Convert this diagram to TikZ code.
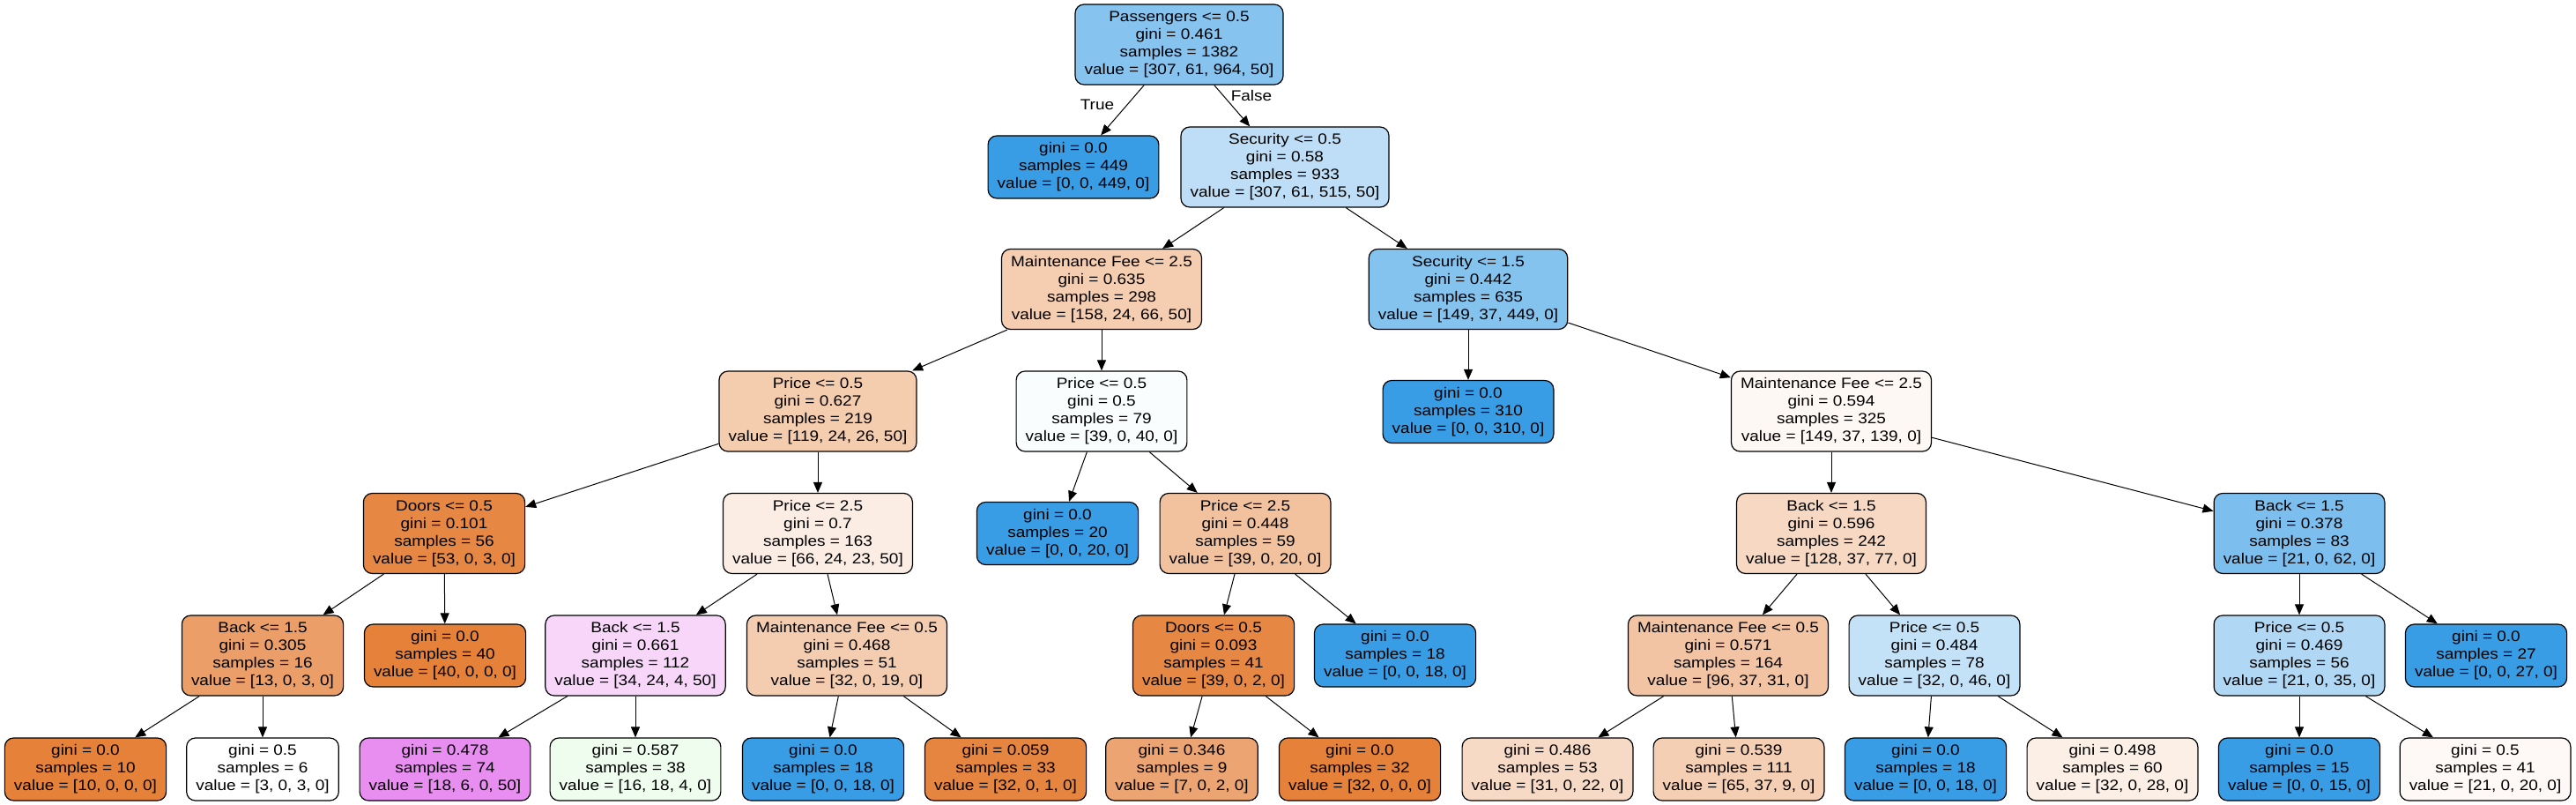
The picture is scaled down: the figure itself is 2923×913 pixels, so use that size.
\documentclass[tikz,border=0pt]{standalone}
\usepackage{fontspec}
\setmainfont{Liberation Sans}[FakeStretch=1.13]
\usetikzlibrary{arrows.meta}
\definecolor{cRoot}{RGB}{134,195,239}
\definecolor{cBlue}{RGB}{57,157,229}
\definecolor{cOrange}{RGB}{229,129,57}
\definecolor{cSecA}{RGB}{189,222,246}
\definecolor{cMfA}{RGB}{245,205,176}
\definecolor{cSecB}{RGB}{133,195,239}
\definecolor{cPrA}{RGB}{244,204,174}
\definecolor{cPrB}{RGB}{250,253,254}
\definecolor{cMfB}{RGB}{254,248,244}
\definecolor{cDoA}{RGB}{230,136,68}
\definecolor{cPrC}{RGB}{251,237,227}
\definecolor{cPrD}{RGB}{242,194,159}
\definecolor{cBkA}{RGB}{247,216,194}
\definecolor{cBkB}{RGB}{124,190,238}
\definecolor{cBkC}{RGB}{235,158,103}
\definecolor{cBkD}{RGB}{247,214,250}
\definecolor{cMfC}{RGB}{244,204,175}
\definecolor{cDoB}{RGB}{230,135,67}
\definecolor{cMfD}{RGB}{243,196,163}
\definecolor{cPrE}{RGB}{195,225,247}
\definecolor{cPrF}{RGB}{176,216,245}
\definecolor{cLfA}{RGB}{255,255,255}
\definecolor{cLfB}{RGB}{232,142,240}
\definecolor{cLfC}{RGB}{238,253,237}
\definecolor{cLfD}{RGB}{230,133,63}
\definecolor{cLfE}{RGB}{236,165,114}
\definecolor{cLfF}{RGB}{247,218,198}
\definecolor{cLfG}{RGB}{245,207,180}
\definecolor{cLfH}{RGB}{252,239,230}
\definecolor{cLfI}{RGB}{254,249,246}
\begin{document}
\begin{tikzpicture}[x=0.5pt,y=-0.5pt,
  box/.style={draw=black, line width=0.6pt, rounded corners=5pt, align=center,
    inner xsep=5.3pt, inner ysep=0pt, font=\fontsize{8.4}{10}\selectfont},
  dec/.style={box, minimum height=45.5pt},
  leaf/.style={box, minimum height=35.5pt},
  edge/.style={draw=black, line width=0.5pt, -{Triangle[length=6pt,width=5pt]}},
  lbl/.style={font=\fontsize{8.4}{10}\selectfont, inner sep=0pt}]
\useasboundingbox[fill=white] (0,0) rectangle (2923,913);
% level 0
\node[dec, fill=cRoot] (n0) at (1338,50.5) {Passengers <= 0.5\\gini = 0.461\\samples = 1382\\value = [307, 61, 964, 50]};
% level 1
\node[leaf, fill=cBlue] (l449) at (1218,189.5) {gini = 0.0\\samples = 449\\value = [0, 0, 449, 0]};
\node[dec, fill=cSecA] (sec05) at (1458,189.5) {Security <= 0.5\\gini = 0.58\\samples = 933\\value = [307, 61, 515, 50]};
% level 2
\node[dec, fill=cMfA] (mf25a) at (1250,328) {Maintenance Fee <= 2.5\\gini = 0.635\\samples = 298\\value = [158, 24, 66, 50]};
\node[dec, fill=cSecB] (sec15) at (1666,328) {Security <= 1.5\\gini = 0.442\\samples = 635\\value = [149, 37, 449, 0]};
% level 3
\node[dec, fill=cPrA] (pr05a) at (928,466.5) {Price <= 0.5\\gini = 0.627\\samples = 219\\value = [119, 24, 26, 50]};
\node[dec, fill=cPrB] (pr05b) at (1250,466.5) {Price <= 0.5\\gini = 0.5\\samples = 79\\value = [39, 0, 40, 0]};
\node[leaf, fill=cBlue] (l310) at (1666,467) {gini = 0.0\\samples = 310\\value = [0, 0, 310, 0]};
\node[dec, fill=cMfB] (mf25b) at (2078,466.5) {Maintenance Fee <= 2.5\\gini = 0.594\\samples = 325\\value = [149, 37, 139, 0]};
% level 4
\node[dec, fill=cDoA] (doorsA) at (504,605) {Doors <= 0.5\\gini = 0.101\\samples = 56\\value = [53, 0, 3, 0]};
\node[dec, fill=cPrC] (pr25a) at (928,605) {Price <= 2.5\\gini = 0.7\\samples = 163\\value = [66, 24, 23, 50]};
\node[leaf, fill=cBlue] (l20) at (1200,605) {gini = 0.0\\samples = 20\\value = [0, 0, 20, 0]};
\node[dec, fill=cPrD] (pr25b) at (1413,605) {Price <= 2.5\\gini = 0.448\\samples = 59\\value = [39, 0, 20, 0]};
\node[dec, fill=cBkA] (back596) at (2078,605) {Back <= 1.5\\gini = 0.596\\samples = 242\\value = [128, 37, 77, 0]};
\node[dec, fill=cBkB] (back378) at (2609,605) {Back <= 1.5\\gini = 0.378\\samples = 83\\value = [21, 0, 62, 0]};
% level 5
\node[dec, fill=cBkC] (back305) at (298,743.5) {Back <= 1.5\\gini = 0.305\\samples = 16\\value = [13, 0, 3, 0]};
\node[leaf, fill=cOrange] (l40) at (505,743.5) {gini = 0.0\\samples = 40\\value = [40, 0, 0, 0]};
\node[dec, fill=cBkD] (back661) at (721,743.5) {Back <= 1.5\\gini = 0.661\\samples = 112\\value = [34, 24, 4, 50]};
\node[dec, fill=cMfC] (mf05a) at (961,743.5) {Maintenance Fee <= 0.5\\gini = 0.468\\samples = 51\\value = [32, 0, 19, 0]};
\node[dec, fill=cDoB] (doorsB) at (1377,743.5) {Doors <= 0.5\\gini = 0.093\\samples = 41\\value = [39, 0, 2, 0]};
\node[leaf, fill=cBlue] (l18a) at (1583,743.5) {gini = 0.0\\samples = 18\\value = [0, 0, 18, 0]};
\node[dec, fill=cMfD] (mf05b) at (1961,743.5) {Maintenance Fee <= 0.5\\gini = 0.571\\samples = 164\\value = [96, 37, 31, 0]};
\node[dec, fill=cPrE] (pr484) at (2195,743.5) {Price <= 0.5\\gini = 0.484\\samples = 78\\value = [32, 0, 46, 0]};
\node[dec, fill=cPrF] (pr469) at (2609,743.5) {Price <= 0.5\\gini = 0.469\\samples = 56\\value = [21, 0, 35, 0]};
\node[leaf, fill=cBlue] (l27) at (2821,743.5) {gini = 0.0\\samples = 27\\value = [0, 0, 27, 0]};
% level 6
\node[leaf, fill=cOrange] (l10) at (97,872.5) {gini = 0.0\\samples = 10\\value = [10, 0, 0, 0]};
\node[leaf, fill=cLfA] (l6) at (298,872.5) {gini = 0.5\\samples = 6\\value = [3, 0, 3, 0]};
\node[leaf, fill=cLfB] (l478) at (505,872.5) {gini = 0.478\\samples = 74\\value = [18, 6, 0, 50]};
\node[leaf, fill=cLfC] (l587) at (721,872.5) {gini = 0.587\\samples = 38\\value = [16, 18, 4, 0]};
\node[leaf, fill=cBlue] (l18b) at (934,872.5) {gini = 0.0\\samples = 18\\value = [0, 0, 18, 0]};
\node[leaf, fill=cLfD] (l059) at (1141,872.5) {gini = 0.059\\samples = 33\\value = [32, 0, 1, 0]};
\node[leaf, fill=cLfE] (l346) at (1341,872.5) {gini = 0.346\\samples = 9\\value = [7, 0, 2, 0]};
\node[leaf, fill=cOrange] (l32) at (1543,872.5) {gini = 0.0\\samples = 32\\value = [32, 0, 0, 0]};
\node[leaf, fill=cLfF] (l486) at (1756,872.5) {gini = 0.486\\samples = 53\\value = [31, 0, 22, 0]};
\node[leaf, fill=cLfG] (l539) at (1973,872.5) {gini = 0.539\\samples = 111\\value = [65, 37, 9, 0]};
\node[leaf, fill=cBlue] (l18c) at (2185,872.5) {gini = 0.0\\samples = 18\\value = [0, 0, 18, 0]};
\node[leaf, fill=cLfH] (l498) at (2397,872.5) {gini = 0.498\\samples = 60\\value = [32, 0, 28, 0]};
\node[leaf, fill=cBlue] (l15) at (2609,872.5) {gini = 0.0\\samples = 15\\value = [0, 0, 15, 0]};
\node[leaf, fill=cLfI] (l41) at (2820,872.5) {gini = 0.5\\samples = 41\\value = [21, 0, 20, 0]};
% edges
\draw[edge] (n0) -- (l449);
\draw[edge] (n0) -- (sec05);
\draw[edge] (sec05) -- (mf25a);
\draw[edge] (sec05) -- (sec15);
\draw[edge] (mf25a) -- (pr05a);
\draw[edge] (mf25a) -- (pr05b);
\draw[edge] (sec15) -- (l310);
\draw[edge] (sec15) -- (mf25b);
\draw[edge] (pr05a) -- (doorsA);
\draw[edge] (pr05a) -- (pr25a);
\draw[edge] (pr05b) -- (l20);
\draw[edge] (pr05b) -- (pr25b);
\draw[edge] (mf25b) -- (back596);
\draw[edge] (mf25b) -- (back378);
\draw[edge] (doorsA) -- (back305);
\draw[edge] (doorsA) -- (l40);
\draw[edge] (pr25a) -- (back661);
\draw[edge] (pr25a) -- (mf05a);
\draw[edge] (pr25b) -- (doorsB);
\draw[edge] (pr25b) -- (l18a);
\draw[edge] (back596) -- (mf05b);
\draw[edge] (back596) -- (pr484);
\draw[edge] (back378) -- (pr469);
\draw[edge] (back378) -- (l27);
\draw[edge] (back305) -- (l10);
\draw[edge] (back305) -- (l6);
\draw[edge] (back661) -- (l478);
\draw[edge] (back661) -- (l587);
\draw[edge] (mf05a) -- (l18b);
\draw[edge] (mf05a) -- (l059);
\draw[edge] (doorsB) -- (l346);
\draw[edge] (doorsB) -- (l32);
\draw[edge] (mf05b) -- (l486);
\draw[edge] (mf05b) -- (l539);
\draw[edge] (pr484) -- (l18c);
\draw[edge] (pr484) -- (l498);
\draw[edge] (pr469) -- (l15);
\draw[edge] (pr469) -- (l41);
% edge labels
\node[lbl] (lblT) at (1245,119) {True};
\node[lbl] (lblF) at (1420,109) {False};
\end{tikzpicture}
\end{document}
